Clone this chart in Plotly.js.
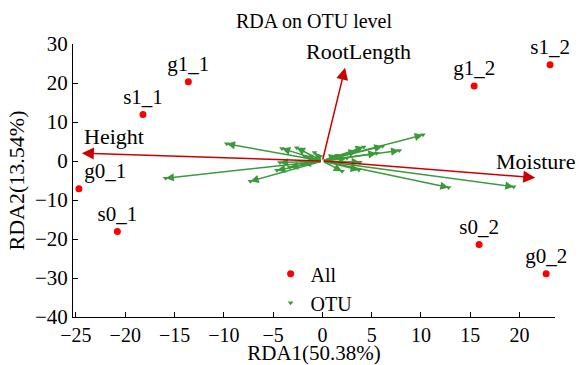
<!DOCTYPE html>
<html>
<head>
<meta charset="utf-8">
<script src="https://cdn.plot.ly/plotly-3.0.1.min.js"></script>
<style>
html,body{margin:0;padding:0;background:#fff;}
#chart{width:579px;height:365px;}
</style>
</head>
<body>
<div id="chart"></div>
<script>
// Sample scores
const sampleNames = ['g1_1','s1_1','g0_1','s0_1','g1_2','s1_2','s0_2','g0_2'];
const sampleX = [-13.6, -18.2, -24.7, -20.8, 15.4, 23.1, 15.9, 22.7];
const sampleY = [20.3, 11.9, -7.1, -18.1, 19.2, 24.7, -21.4, -28.9];
const sampleLabelPos = ['top center','top center','top right','top center','top center','top center','top center','top center'];

// Environmental vectors
const envNames = ['Height', 'Moisture', 'RootLength'];
const envX = [-24.4, 21.6, 2.3];
const envY = [2.0, -4.3, 23.9];

// OTU vectors (arrow tips)
const otuX = [-9.7, -15.9, -7.3, -4.1, -2.6, -0.8, -4.6, -3.3, -4.3, -1.8, -2.0,
              10.2, 7.8, 12.8, 19.4, 2.0, 3.7, 4.2, 6.1, 3.8, 3.5, 1.5, 2.5, 5.5];
const otuY = [4.4, -4.4, -5.2, 3.2, 3.4, 2.2, -2.4, -1.6, -0.4, 1.2, -0.8,
              6.7, 2.7, -6.8, -6.6, -2.6, -2.3, 3.6, 3.8, -0.3, 2.6, 1.5, 0.8, 2.0];

const SERIF = 'Liberation Serif, DejaVu Serif, serif';

var data = [
  {
    type: 'scatter', mode: 'markers', name: 'OTU',
    x: otuX, y: otuY,
    marker: {symbol: 'triangle-down', size: 5, color: '#3c9a3c'},
    hoverinfo: 'skip'
  },
  {
    type: 'scatter', mode: 'markers+text', name: 'All',
    x: sampleX, y: sampleY, text: sampleNames,
    textposition: sampleLabelPos, cliponaxis: false,
    textfont: {family: SERIF, size: 21, color: '#000000'},
    marker: {symbol: 'circle', size: 7, color: '#ff0000'}
  }
];

var annotations = [];
for (var i = 0; i < otuX.length; i++) {
  annotations.push({
    x: otuX[i], y: otuY[i], ax: 0, ay: 0, xref: 'x', yref: 'y', axref: 'x', ayref: 'y',
    showarrow: true, arrowhead: 2, arrowsize: 1.1, arrowwidth: 1.5, arrowcolor: '#3c9a3c', text: ''
  });
}
var envAnchor = ['left', 'center', 'center'];
var envShift = [0, 0, 13];
for (var j = 0; j < envX.length; j++) {
  annotations.push({
    x: envX[j], y: envY[j], ax: 0, ay: 0, xref: 'x', yref: 'y', axref: 'x', ayref: 'y',
    showarrow: true, arrowhead: 2, arrowsize: 1.6, arrowwidth: 1.5, arrowcolor: '#cc0000', text: ''
  });
  annotations.push({
    x: envX[j], y: envY[j], xref: 'x', yref: 'y', text: envNames[j], showarrow: false,
    xanchor: envAnchor[j], yanchor: 'bottom', xshift: envShift[j], yshift: 2,
    font: {family: SERIF, size: 22, color: '#000000'}
  });
}

var layout = {
  width: 579, height: 365,
  margin: {l: 73, r: 24, t: 44, b: 48},
  title: {text: 'RDA on OTU level', font: {family: SERIF, size: 20, color: '#000000'},
          x: 0.5, xref: 'paper', xanchor: 'center', y: 0.942, yref: 'container', yanchor: 'middle'},
  xaxis: {
    range: [-25.3, 23.6], dtick: 5, tick0: 0,
    showgrid: false, zeroline: false, showline: true, linecolor: '#000000', linewidth: 1,
    ticks: 'inside', ticklen: 5, tickcolor: '#000000',
    tickfont: {family: SERIF, size: 20, color: '#000000'},
    title: {text: 'RDA1(50.38%)', font: {family: SERIF, size: 21, color: '#000000'}, standoff: 0}
  },
  yaxis: {
    range: [-40, 30], dtick: 10, tick0: 0,
    showgrid: false, zeroline: false, showline: true, linecolor: '#000000', linewidth: 1,
    ticks: 'inside', ticklen: 5, tickcolor: '#000000',
    tickfont: {family: SERIF, size: 21, color: '#000000'},
    title: {text: 'RDA2(13.54%)', font: {family: SERIF, size: 22, color: '#000000'}, standoff: 4}
  },
  showlegend: true,
  legend: {
    x: 0.41, y: 0.23, xanchor: 'left', yanchor: 'top',
    bgcolor: 'rgba(0,0,0,0)', traceorder: 'reversed',
    font: {family: SERIF, size: 20, color: '#000000'},
    itemwidth: 30, tracegroupgap: 0
  },
  annotations: annotations
};

Plotly.newPlot('chart', data, layout, {displayModeBar: false});
</script>
</body>
</html>
